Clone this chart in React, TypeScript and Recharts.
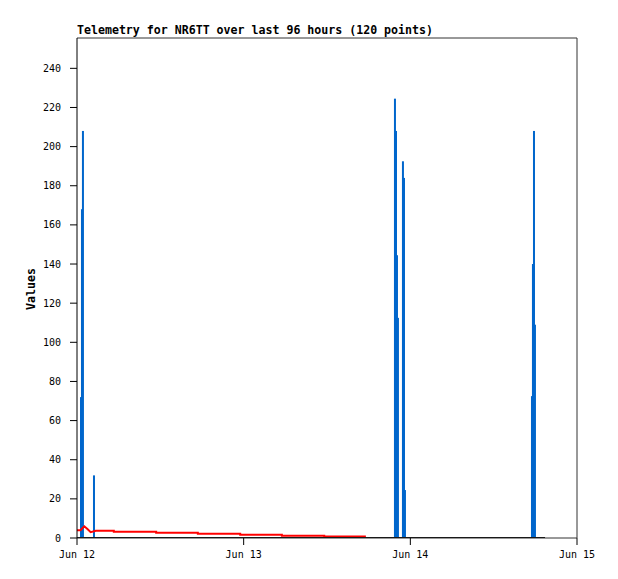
import React from 'react';
import { ComposedChart, Bar, Line, XAxis, YAxis, ReferenceLine } from 'recharts';

const chartTitle = 'Telemetry for NR6TT over last 96 hours (120 points)';
const yLabel = 'Values';

// hours since Jun 12 00:00
const xTicks = [0, 24, 48, 72];
const xTickLabels = ['Jun 12', 'Jun 13', 'Jun 14', 'Jun 15'];
const yTicks = [0, 20, 40, 60, 80, 100, 120, 140, 160, 180, 200, 220, 240];
const yMax = 255.5;

const barTimes = [0.58, 0.72, 0.86, 2.45, 45.79, 45.94, 46.08, 46.22, 46.94, 47.09, 47.23, 65.52, 65.66, 65.81, 65.95];
const barValues = [72, 168, 208, 32, 224.5, 208, 144.5, 112.5, 192.5, 184, 24.5, 72.5, 140, 208, 109];

const redTimes = [0, 0.5, 1.05, 1.5, 1.97, 2.7, 5.3, 5.3, 11.4, 11.4, 17.4, 17.4, 23.5, 23.5, 29.5, 29.5, 35.6, 35.6, 41.6];
const redValues = [4.0, 4.0, 6.0, 4.6, 3.0, 3.7, 3.7, 3.2, 3.2, 2.7, 2.7, 2.2, 2.2, 1.7, 1.7, 1.2, 1.2, 0.8, 0.8];

const zeroTimes = [0, 67.4];
const zeroValues = [0, 0];

const barData = barTimes.map((t, i) => ({ t, v: barValues[i] }));
const redData = redTimes.map((t, i) => ({ t, v: redValues[i] }));
const zeroData = zeroTimes.map((t, i) => ({ t, v: zeroValues[i] }));

const Impulse = (props: any) => {
  const { x, y, width, height, fill } = props;
  if (x == null || y == null) return null;
  const cx = x + (width || 0) / 2;
  return <rect x={cx - 1} y={y} width={2} height={Math.max(0, height)} fill={fill} />;
};

const mono = '"DejaVu Sans Mono", monospace';

export default function App() {
  return (
    <div style={{ position: 'absolute', left: 0, top: 0, width: 618, height: 579, background: '#fff' }}>
      <div
        style={{
          position: 'absolute',
          left: 77,
          top: 23,
          fontFamily: mono,
          fontWeight: 'bold',
          fontSize: 11.6,
          color: '#000',
          whiteSpace: 'nowrap',
        }}
      >
        {chartTitle}
      </div>
      <div
        style={{
          position: 'absolute',
          left: 31,
          top: 289,
          transform: 'translate(-50%, -50%) rotate(-90deg)',
          fontFamily: mono,
          fontWeight: 'bold',
          fontSize: 11.6,
          color: '#000',
          whiteSpace: 'nowrap',
        }}
      >
        {yLabel}
      </div>
      <ComposedChart
        width={618}
        height={579}
        data={barData}
        margin={{ top: 38, right: 41, left: 17, bottom: 11 }}
      >
        <XAxis
          dataKey="t"
          type="number"
          domain={[0, 72]}
          ticks={xTicks}
          allowDataOverflow
          interval={0}
          tickFormatter={(v: number) => xTickLabels[xTicks.indexOf(v)] ?? ''}
          tickSize={7}
          tickMargin={6}
          height={30}
          axisLine={{ stroke: '#333', strokeWidth: 1 }}
          tickLine={{ stroke: '#000', strokeWidth: 1 }}
          tick={{ fontFamily: mono, fontSize: 10, fill: '#000' }}
        />
        <YAxis
          type="number"
          domain={[0, yMax]}
          ticks={yTicks}
          allowDataOverflow
          interval={0}
          tickSize={7}
          tickMargin={9}
          width={60}
          axisLine={{ stroke: '#000', strokeWidth: 1 }}
          tickLine={{ stroke: '#000', strokeWidth: 1 }}
          tick={{ fontFamily: mono, fontSize: 10, fill: '#000' }}
        />
        <ReferenceLine y={yMax} stroke="#333" strokeWidth={1} />
        <ReferenceLine x={72} stroke="#333" strokeWidth={1} />
        <Bar dataKey="v" fill="#0066cc" barSize={2} shape={<Impulse />} isAnimationActive={false} />
        <Line
          data={redData}
          dataKey="v"
          type="linear"
          stroke="#ff0000"
          strokeWidth={2}
          dot={false}
          activeDot={false}
          isAnimationActive={false}
        />
        <Line
          data={zeroData}
          dataKey="v"
          type="linear"
          stroke="#000"
          strokeWidth={2}
          dot={false}
          activeDot={false}
          isAnimationActive={false}
        />
      </ComposedChart>
    </div>
  );
}
